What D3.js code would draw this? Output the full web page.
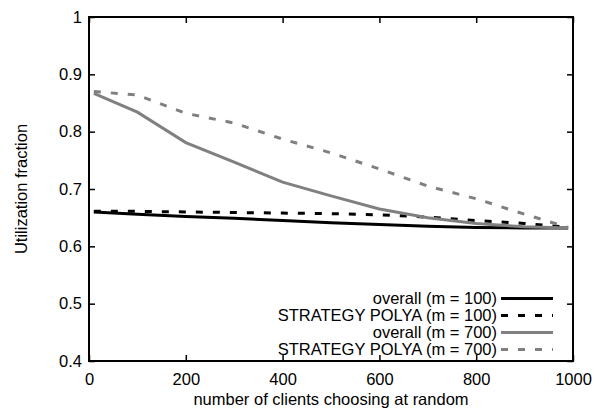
<!DOCTYPE html>
<html><head><meta charset="utf-8">
<script src="https://cdn.jsdelivr.net/npm/d3@7"></script>
<style>body{margin:0;background:#fff}svg{display:block}text{font-family:"Liberation Sans",Arial,sans-serif;fill:#000}</style>
</head><body><svg id="c" width="595" height="413"></svg>
<script>
const xs = [10,100,200,300,400,500,600,700,800,900,990];
const overall100 = [0.660,0.656,0.652,0.649,0.645,0.641,0.638,0.635,0.633,0.632,0.632];
const polya100   = [0.661,0.661,0.660,0.659,0.658,0.657,0.655,0.651,0.645,0.640,0.633];
const overall700 = [0.867,0.834,0.781,0.747,0.712,0.688,0.665,0.650,0.640,0.634,0.632];
const polya700   = [0.870,0.864,0.832,0.815,0.787,0.763,0.735,0.705,0.683,0.656,0.633];
const xTicks = [0,200,400,600,800,1000];
const yTicks = [0.4,0.5,0.6,0.7,0.8,0.9,1];
const seriesNames = ["overall (m = 100)","STRATEGY POLYA (m = 100)","overall (m = 700)","STRATEGY POLYA (m = 700)"];
const series = [overall100, polya100, overall700, polya700];
const colors = ["#000","#000","#808080","#808080"];
const dashes = [null,"7,10",null,"7,10"];

const L=89,R=573,T=17,B=361, FS=16.5;
const svg=d3.select("#c");
const x=d3.scaleLinear().domain([0,1000]).range([L,R]);
const y=d3.scaleLinear().domain([0.4,1]).range([B,T]);

const g=svg.append("g");
const tl=6;
g.append("g").attr("transform",`translate(0,${B})`).call(d3.axisBottom(x).tickValues(xTicks).tickSizeInner(-tl).tickSizeOuter(0).tickPadding(9).tickFormat(d3.format("d")))
 .call(a=>{a.select(".domain").remove();a.selectAll("text").attr("font-size",FS).attr("dy","0.9em");a.selectAll("line").attr("stroke-width",1.5);});
g.append("g").attr("transform",`translate(0,${T})`).call(d3.axisTop(x).tickValues(xTicks).tickSizeInner(-tl).tickSizeOuter(0).tickFormat(""))
 .call(a=>{a.select(".domain").remove();a.selectAll("line").attr("stroke-width",1.5);});
g.append("g").attr("transform",`translate(${L},0)`).call(d3.axisLeft(y).tickValues(yTicks).tickSizeInner(-tl).tickSizeOuter(0).tickPadding(7).tickFormat(d=>d===1?"1":d3.format(".1f")(d)))
 .call(a=>{a.select(".domain").remove();a.selectAll("text").attr("font-size",FS);a.selectAll("line").attr("stroke-width",1.5);});
g.append("g").attr("transform",`translate(${R},0)`).call(d3.axisRight(y).tickValues(yTicks).tickSizeInner(-tl).tickSizeOuter(0).tickFormat(""))
 .call(a=>{a.select(".domain").remove();a.selectAll("line").attr("stroke-width",1.5);});

const line=d3.line().x((d,i)=>x(xs[i])).y(d=>y(d));
series.forEach((s,k)=>{
  svg.append("path").datum(s).attr("d",line).attr("fill","none").attr("stroke",colors[k])
    .attr("stroke-width",3).attr("stroke-dasharray",dashes[k]);
});

svg.append("rect").attr("x",L).attr("y",T).attr("width",R-L).attr("height",B-T).attr("fill","none").attr("stroke","#000").attr("stroke-width",2);

const rowY=[298.5,315.5,332.5,349.5];
seriesNames.forEach((n,k)=>{
  svg.append("text").attr("x",497).attr("y",rowY[k]).attr("dy","0.36em").attr("text-anchor","end").attr("font-size",FS).text(n);
  svg.append("line").attr("x1",501).attr("x2",553).attr("y1",rowY[k]).attr("y2",rowY[k])
    .attr("stroke",colors[k]).attr("stroke-width",3).attr("stroke-dasharray",dashes[k]);
});

svg.append("text").attr("x",(L+R)/2).attr("y",405).attr("text-anchor","middle").attr("font-size",FS).text("number of clients choosing at random");
svg.append("text").attr("transform",`translate(27,${(T+B)/2}) rotate(-90)`).attr("text-anchor","middle").attr("font-size",FS).text("Utilization fraction");
</script></body></html>
